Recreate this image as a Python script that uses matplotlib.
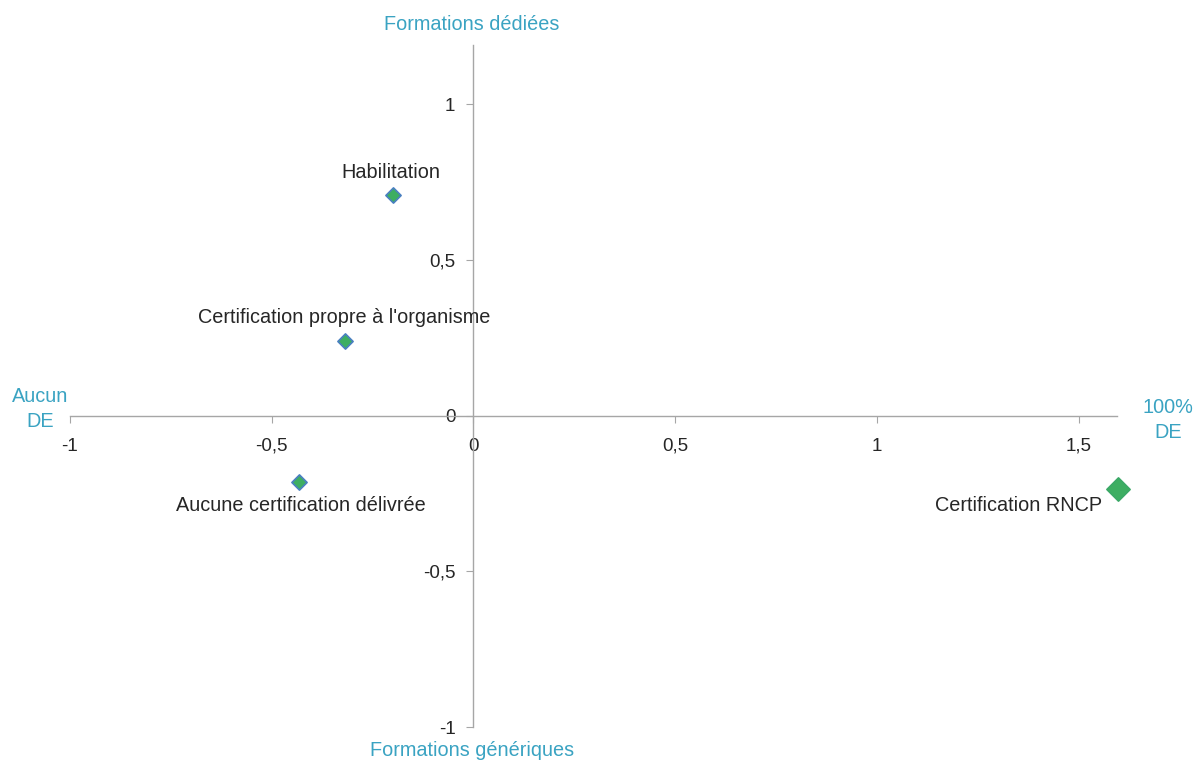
import matplotlib
matplotlib.use("Agg")
import matplotlib.pyplot as plt

labels = ["Habilitation", "Certification propre à l'organisme",
          "Aucune certification délivrée", "Certification RNCP"]
x_vals = [-0.20, -0.318, -0.432, 1.598]
y_vals = [0.707, 0.241, -0.212, -0.235]
x_ticks = [-1, -0.5, 0, 0.5, 1, 1.5]
x_ticklabels = ["-1", "-0,5", "0", "0,5", "1", "1,5"]
y_ticks = [-1, -0.5, 0, 0.5, 1]
y_ticklabels = ["-1", "-0,5", "0", "0,5", "1"]

plt.rcParams['font.family'] = ['Liberation Sans', 'DejaVu Sans']
teal = '#3aa3c2'
axis_col = '#a6a6a6'
txt_col = '#262626'

fig = plt.figure(figsize=(11.93, 7.6), dpi=100)
ax = fig.add_axes([70/1193, 1-727/760, (1117-70)/1193, (727-45)/760])
ax.set_xlim(-1, 1.595)
ax.set_ylim(-1, 1.19)

for s in ['top', 'right']:
    ax.spines[s].set_visible(False)
ax.spines['left'].set_position(('data', 0))
ax.spines['bottom'].set_position(('data', 0))
for s in ['left', 'bottom']:
    ax.spines[s].set_color(axis_col)
    ax.spines[s].set_linewidth(1.0)

ax.set_xticks(x_ticks)
ax.set_xticklabels(x_ticklabels)
ax.set_yticks(y_ticks)
ax.set_yticklabels(y_ticklabels)
ax.tick_params(axis='both', direction='out', length=5, color=axis_col,
               labelsize=13.5, labelcolor=txt_col)
ax.tick_params(axis='x', pad=11)
ax.tick_params(axis='y', pad=8)

sizes = [60, 60, 60, 140]
edges = ['#4a7fc1', '#4a7fc1', '#4a7fc1', '#3aa866']
for xv, yv, s, ec in zip(x_vals, y_vals, sizes, edges):
    ax.scatter([xv], [yv], marker='D', s=s, c='#3dae62', edgecolors=ec,
               linewidths=1.2, zorder=5, clip_on=False)

offsets = [(-2, 23), (-1, 23), (2, -24), (-16, -17)]
has = ['center', 'center', 'center', 'right']
for lab, xv, yv, off, ha in zip(labels, x_vals, y_vals, offsets, has):
    ax.annotate(lab, (xv, yv), xytext=off, textcoords='offset pixels',
                ha=ha, va='center', fontsize=14.3, color=txt_col,
                annotation_clip=False)

fig.text(472/1193, 1-25/760, "Formations dédiées", ha='center', va='center',
         fontsize=14.3, color=teal)
fig.text(472/1193, 1-750/760, "Formations génériques", ha='center', va='center',
         fontsize=14.3, color=teal)
fig.text(40/1193, 1-409/760, "Aucun\nDE", ha='center', va='center',
         fontsize=14.3, color=teal, linespacing=1.35)
fig.text(1168/1193, 1-420/760, "100%\nDE", ha='center', va='center',
         fontsize=14.3, color=teal, linespacing=1.35)

fig.savefig("out.png", dpi=100)
